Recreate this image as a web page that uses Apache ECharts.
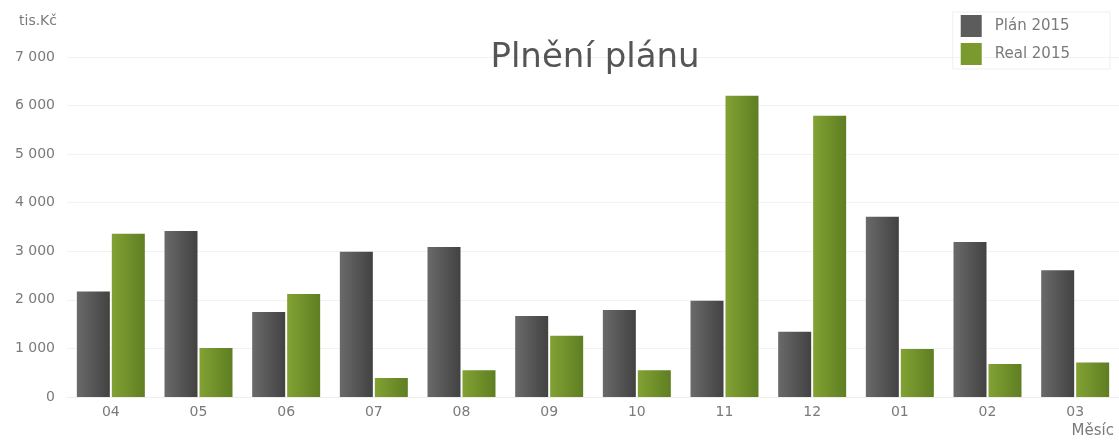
<!DOCTYPE html>
<html>
<head>
<meta charset="utf-8">
<script src="https://cdn.jsdelivr.net/npm/echarts@6/dist/echarts.min.js"></script>
<style>html,body{margin:0;padding:0;background:#fff}#c{width:1119px;height:440px}</style>
</head>
<body>
<div id="c"></div>
<script>
const months = ['04','05','06','07','08','09','10','11','12','01','02','03'];
const plan2015 = [2170, 3420, 1750, 2990, 3090, 1670, 1790, 1980, 1345, 3710, 3190, 2610];
const real2015 = [3360, 1010, 2120, 390, 550, 1260, 550, 6200, 5790, 990, 680, 710];
const seriesNames = ['Plán 2015', 'Real 2015'];

const FONT = 'DejaVu Sans';
const chart = echarts.init(document.getElementById('c'), null, {renderer: 'canvas'});
const grad = (a, b) => new echarts.graphic.LinearGradient(0, 0, 1, 0, [{offset: 0, color: a}, {offset: 1, color: b}]);
chart.setOption({
  animation: false,
  backgroundColor: '#fff',
  title: {
    text: 'Plnění plánu',
    left: 590,
    textAlign: 'center',
    top: 36,
    textStyle: {fontFamily: FONT, fontSize: 34, fontWeight: 'normal', color: '#555'}
  },
  legend: {
    orient: 'vertical',
    right: 9,
    top: 12,
    icon: 'rect',
    itemWidth: 21,
    itemHeight: 22,
    itemGap: 6,
    padding: [3, 40, 4, 8],
    borderColor: '#efefef',
    borderWidth: 1,
    textStyle: {fontFamily: FONT, fontSize: 15, color: '#7a7a7a', padding: [0, 0, 0, 8]},
    data: [
      {name: seriesNames[0], itemStyle: {color: '#5c5c5c'}},
      {name: seriesNames[1], itemStyle: {color: '#7a9a2e'}}
    ]
  },
  grid: {left: 67, right: -2, top: 57, bottom: 43},
  xAxis: {
    type: 'category',
    data: months,
    name: 'Měsíc',
    nameLocation: 'end',
    nameGap: -5,
    nameTextStyle: {fontFamily: FONT, fontSize: 15, color: '#7a7a7a', align: 'right', verticalAlign: 'top', padding: [27, 0, 0, 0]},
    axisLine: {lineStyle: {color: '#eeeeee'}},
    axisTick: {show: false},
    axisLabel: {fontFamily: FONT, fontSize: 14, color: '#7a7a7a', margin: 8}
  },
  yAxis: {
    type: 'value',
    min: 0,
    max: 7000,
    interval: 1000,
    name: 'tis.Kč',
    nameLocation: 'end',
    nameGap: 36,
    nameTextStyle: {fontFamily: FONT, fontSize: 14, color: '#7a7a7a', align: 'right', verticalAlign: 'middle', padding: [0, 10, 0, 0]},
    axisLine: {show: false},
    axisTick: {show: false},
    splitLine: {lineStyle: {color: '#f2f2f2'}},
    axisLabel: {
      fontFamily: FONT, fontSize: 14, color: '#7a7a7a', margin: 12,
      formatter: v => String(v).replace(/\B(?=(\d{3})+(?!\d))/g, ' ')
    }
  },
  series: [
    {
      name: seriesNames[0], type: 'bar', data: plan2015,
      barWidth: 33, barGap: '6%',
      itemStyle: {color: grad('#6a6a6a', '#424242')}
    },
    {
      name: seriesNames[1], type: 'bar', data: real2015,
      barWidth: 33,
      itemStyle: {color: grad('#82a234', '#5e7e22')}
    }
  ]
});
</script>
</body>
</html>
